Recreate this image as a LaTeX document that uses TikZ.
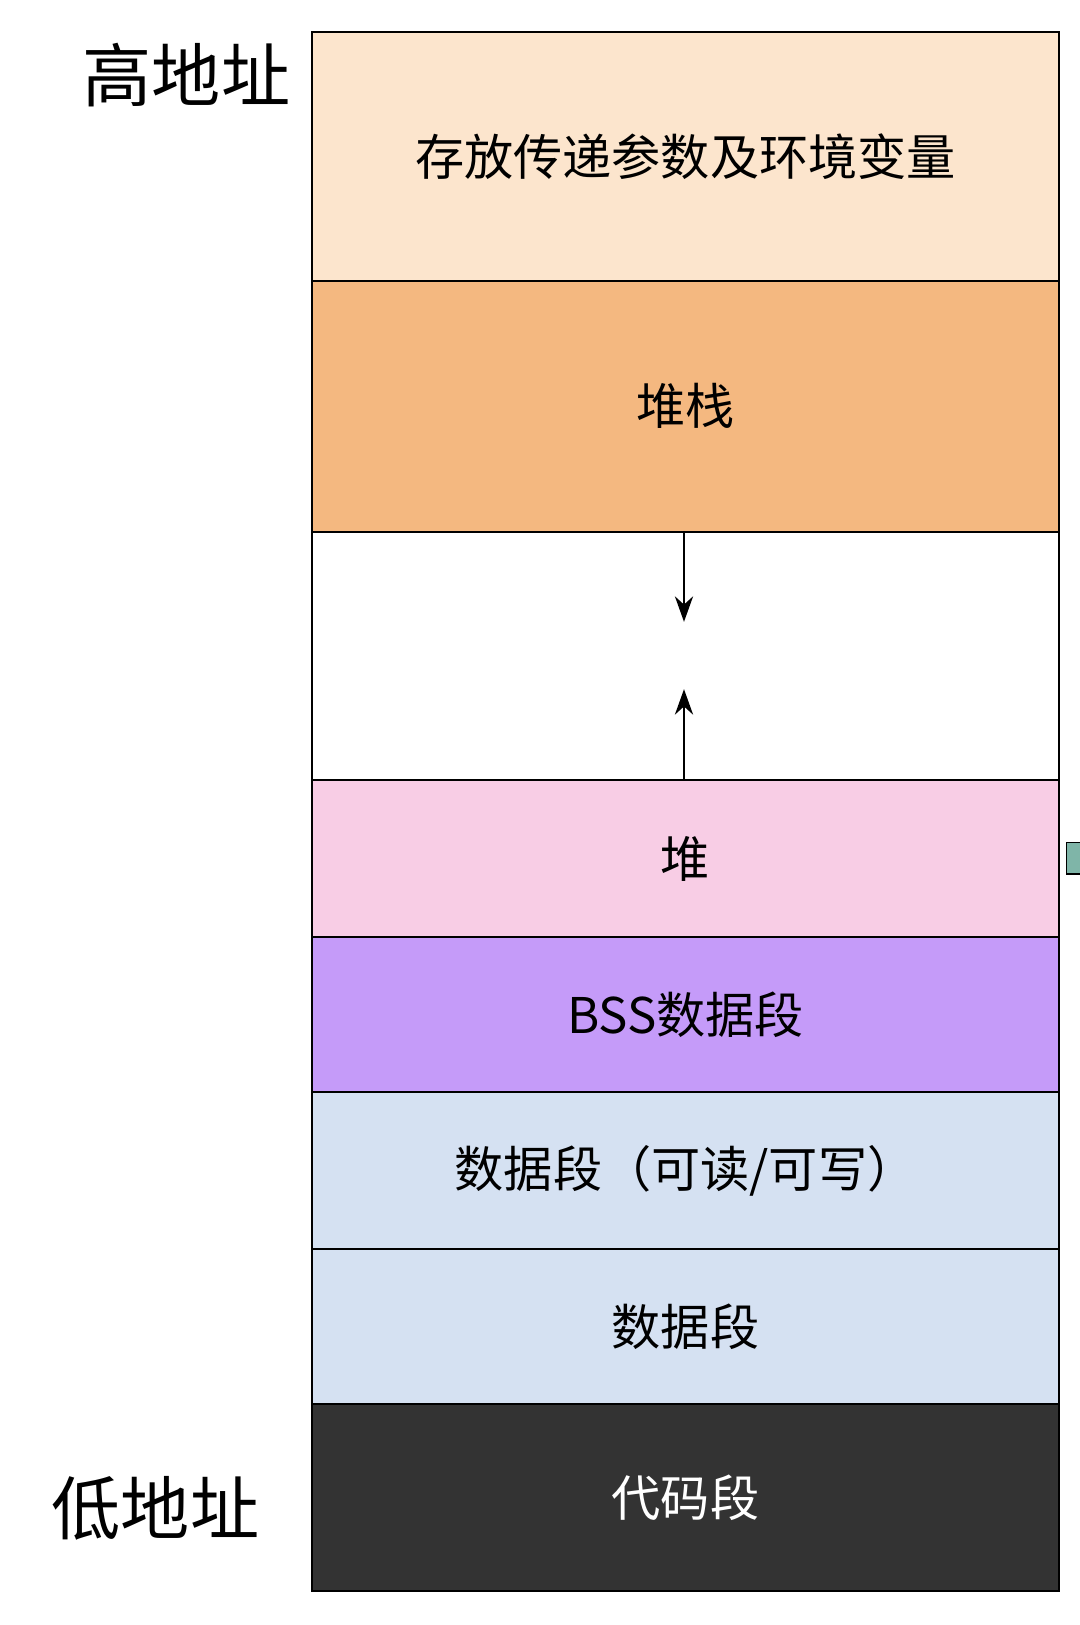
\documentclass[tikz,border=0pt]{standalone}
\usepackage{fontspec}
\setmainfont{Noto Sans CJK SC}
\usetikzlibrary{arrows.meta}
\definecolor{envc}{HTML}{FCE5CD}
\definecolor{stackc}{HTML}{F4B880}
\definecolor{heapc}{HTML}{F8CDE5}
\definecolor{bssc}{HTML}{C59BF9}
\definecolor{datac}{HTML}{D5E1F2}
\definecolor{codec}{HTML}{333333}
\definecolor{tealc}{HTML}{7FB5A8}
\tikzset{
  seg/.style={draw=black,line width=1.2pt,font=\fontsize{27}{30}\selectfont},
  addr/.style={font=\fontsize{38}{42}\selectfont}
}
\begin{document}
\begin{tikzpicture}[x=0.02cm,y=-0.02cm]
\useasboundingbox (0,0) rectangle (1042,1568);
% memory segments, top to bottom
\draw [seg,fill=envc]   (301,31)   rectangle (1022,271)  node (env)   [midway] {存放传递参数及环境变量};
\draw [seg,fill=stackc] (301,271)  rectangle (1022,513)  node (stack) [midway] {堆栈};
\draw [seg,fill=white]  (301,513)  rectangle (1022,753)  node (gap)   [midway] {};
\draw [seg,fill=heapc]  (301,753)  rectangle (1022,904)  node (heap)  [midway] {堆};
\draw [seg,fill=bssc]   (301,904)  rectangle (1022,1054) node (bss)   [midway] {BSS数据段};
\draw [seg,fill=datac]  (301,1054) rectangle (1022,1205) node (rwdata)[midway] {数据段（可读/可写）};
\draw [seg,fill=datac]  (301,1205) rectangle (1022,1355) node (data)  [midway] {数据段};
\draw [seg,fill=codec]  (301,1355) rectangle (1022,1535) node (code)  [midway,text=white] {代码段};
% growth arrows
\coordinate (stackend) at (660,600);
\coordinate (heapend) at (660,665);
\draw [line width=1.2pt,-{Stealth[length=14pt,width=10pt]}] (660,513) -- (stackend);
\draw [line width=1.2pt,-{Stealth[length=14pt,width=10pt]}] (660,753) -- (heapend);
% side marker
\draw [fill=tealc,line width=1pt] (1029,813) rectangle (1045,843);
% address labels
\node (high) [addr] at (180,72) {高地址};
\node (low)  [addr] at (150,1455) {低地址};
\end{tikzpicture}
\end{document}
